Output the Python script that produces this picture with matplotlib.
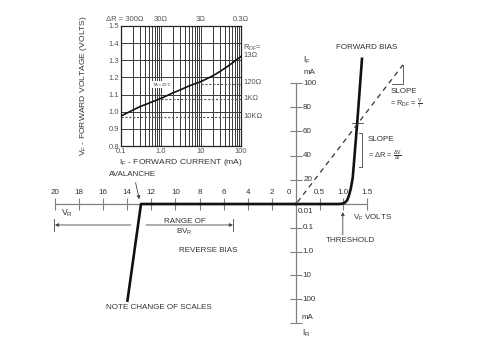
import matplotlib
matplotlib.use("Agg")
import matplotlib.pyplot as plt
from matplotlib.ticker import NullLocator, NullFormatter

plt.rcParams['font.family'] = ['Liberation Sans', 'DejaVu Sans']
plt.rcParams['mathtext.default'] = 'regular'

# Ejes principales (escalas cambiadas en cada cuadrante)
rev_v_ticks = [20, 18, 16, 14, 12, 10, 8, 6, 4, 2]
fwd_v_ticks = [0.5, 1.0, 1.5]
fwd_v_labels = ['0.5', '1.0', '1.5']
if_ticks = [20, 40, 60, 80, 100]
ir_ticks = [0.1, 1, 10, 100, 1000]
ir_labels = ['0.1', '1.0', '10', '100']

# Curva directa (V, mA)
curva_vf = [0, 0.9, 0.97, 1.03, 1.08, 1.12, 1.16, 1.2, 1.3, 1.395]
curva_if = [0, 0, 0.2, 1, 3, 7, 13, 22, 70, 120]
# Curva inversa (V, mA)
curva_vr = [0, 12.86, 14.0]
curva_ir = [0.01, 0.01, 130]
# Recta de pendiente V/I
recta_v = [0.03, 2.26]
recta_i = [1.5, 115]

# Grafica pequeña
inset_if = [0.1, 0.2, 0.3, 0.5, 1, 2, 3, 5, 10, 20, 30, 50, 100]
inset_vf = [0.975, 1.01, 1.03, 1.05, 1.078, 1.11, 1.127, 1.15, 1.176, 1.21, 1.235, 1.27, 1.322]
inset_xticks = [0.1, 1, 10, 100]
inset_xlabels = ['0.1', '1.0', '10', '100']
inset_yticks = [0.8, 0.9, 1.0, 1.1, 1.2, 1.3, 1.4, 1.5]
delta_r = ['300Ω', '30Ω', '3Ω', '0.3Ω']
rdf_nivel = [1.16, 1.075, 0.968]
rdf_desde = [10, 1, 0.1]
rdf_texto = ['120Ω', '1KΩ', '10KΩ']
rdf_texto_y = [1.172, 1.075, 0.97]

gris = '#808080'
negro = '#111111'
texto = '#333333'
fs = 5.8

fig = plt.figure(figsize=(4.8, 3.39), dpi=100)

# cuadrante inverso
ax_r = fig.add_axes([0, 0, 1, 1])
ax_r.patch.set_visible(False)
ax_r.set_yscale('log')
ax_r.set_xlim(24.56, -15.27)
ax_r.set_ylim(10 ** 3.672, 10 ** -10.571)
for s in ['bottom', 'right']:
    ax_r.spines[s].set_visible(False)
ax_r.spines['top'].set_position(('data', 0.01))
ax_r.spines['top'].set_bounds(0, 20)
ax_r.spines['left'].set_position(('data', 0))
ax_r.spines['left'].set_bounds(0.01, 1000)
for s in ['top', 'left']:
    ax_r.spines[s].set_color(gris)
    ax_r.spines[s].set_linewidth(0.9)
ax_r.xaxis.set_ticks_position('top')
ax_r.set_xticks(rev_v_ticks)
ax_r.set_xticklabels([str(v) for v in rev_v_ticks])
ax_r.tick_params(axis='x', direction='inout', length=8, width=0.8, color=gris,
                 labelsize=fs, labelcolor=texto, pad=1.5)
ax_r.set_yticks(ir_ticks)
ax_r.yaxis.set_minor_locator(NullLocator())
ax_r.tick_params(axis='y', which='both', direction='inout', length=9, width=0.8,
                 color=gris, labelleft=False)

ax_r.plot(curva_vr, curva_ir, color=negro, lw=1.9, zorder=3, solid_capstyle='butt')

for v, lab in zip(ir_ticks, ir_labels):
    ax_r.text(-0.55, v, lab, fontsize=fs, color=texto, ha='left', va='center')
ax_r.text(-0.83, 0.0197, '0.01', fontsize=fs, color=texto, ha='center', va='center')
ax_r.text(-0.5, 560, 'mA', fontsize=fs, color=texto, ha='left', va='center')
ax_r.text(-0.5, 2630, 'I$_R$', fontsize=fs + 0.5, color=texto, ha='left', va='center')
ax_r.text(0.58, 3.45e-3, '0', fontsize=fs, color=texto, ha='center', va='center')

ax_r.text(13.53, 6.0e-4, 'AVALANCHE', fontsize=fs, color=texto, ha='center', va='center')
ax_r.annotate('', xy=(12.95, 8.2e-3), xytext=(13.36, 9.8e-4),
              arrowprops=dict(arrowstyle='-|>', lw=0.6, color='#444', mutation_scale=5))
ax_r.text(19.0, 0.024, 'V$_R$', fontsize=fs + 0.5, color=texto, ha='center', va='center')

ax_r.annotate('', xy=(20.0, 0.0762), xytext=(13.7, 0.0762),
              arrowprops=dict(arrowstyle='-|>', lw=0.6, color='#444', mutation_scale=5,
                              shrinkA=0, shrinkB=0))
ax_r.plot([20.1, 20.1], [0.043, 0.136], color='#444', lw=0.6)
ax_r.annotate('', xy=(5.23, 0.0762), xytext=(12.45, 0.0762),
              arrowprops=dict(arrowstyle='-|>', lw=0.6, color='#444', mutation_scale=5,
                              shrinkA=0, shrinkB=0))
ax_r.plot([5.2, 5.2], [0.043, 0.136], color='#444', lw=0.6)
ax_r.text(9.2, 0.057, 'RANGE OF', fontsize=fs, color=texto, ha='center', va='center')
ax_r.text(9.3, 0.15, 'BV$_R$', fontsize=fs, color=texto, ha='center', va='center')
ax_r.text(7.3, 0.86, 'REVERSE BIAS', fontsize=fs, color=texto, ha='center', va='center')
ax_r.text(11.4, 234, 'NOTE CHANGE OF SCALES', fontsize=fs, color=texto, ha='center', va='center')

# cuadrante directo
ax_f = fig.add_axes([0, 0, 1, 1])
ax_f.patch.set_visible(False)
ax_f.set_xlim(-6.258, 3.890)
ax_f.set_ylim(-111.57, 168.6)
for s in ['bottom', 'right']:
    ax_f.spines[s].set_visible(False)
ax_f.spines['top'].set_position(('data', 0))
ax_f.spines['top'].set_bounds(0, 1.5)
ax_f.spines['left'].set_position(('data', 0))
ax_f.spines['left'].set_bounds(0, 100)
for s in ['top', 'left']:
    ax_f.spines[s].set_color(gris)
    ax_f.spines[s].set_linewidth(0.9)
ax_f.xaxis.set_ticks_position('top')
ax_f.set_xticks(fwd_v_ticks)
ax_f.set_xticklabels(fwd_v_labels)
ax_f.tick_params(axis='x', direction='inout', length=8, width=0.8, color=gris,
                 labelsize=fs, labelcolor=texto, pad=1.5)
ax_f.set_yticks(if_ticks)
ax_f.tick_params(axis='y', direction='inout', length=9, width=0.8, color=gris,
                 labelleft=False)

ax_f.plot(curva_vf, curva_if, color=negro, lw=1.9, zorder=3)
ax_f.plot(recta_v, recta_i, color='#333', lw=0.9, ls=(0, (4, 3.5)), zorder=3)
ax_f.plot([2.03, 2.26, 2.26], [99, 99, 115], color='#444', lw=0.6)
ax_f.plot([1.18, 1.42], [67, 67], color='#444', lw=0.6)
ax_f.plot([1.34, 1.395, 1.395, 1.34], [58.7, 58.7, 30.6, 30.6], color='#444', lw=0.6)

for v in if_ticks:
    ax_f.text(0.15, v, str(v), fontsize=fs, color=texto, ha='left', va='center')
ax_f.text(0.15, 119, 'I$_F$', fontsize=fs + 0.5, color=texto, ha='left', va='center')
ax_f.text(0.15, 109, 'mA', fontsize=fs, color=texto, ha='left', va='center')
ax_f.text(1.5, 129, 'FORWARD BIAS', fontsize=fs, color=texto, ha='center', va='center')
ax_f.text(1.99, 92.6, 'SLOPE', fontsize=fs, color=texto, ha='left', va='center')
ax_f.text(1.99, 83, '= R$_{DF}$ = $\\frac{V}{I}$', fontsize=fs - 0.5, color=texto,
          ha='left', va='center')
ax_f.text(1.52, 53, 'SLOPE', fontsize=fs, color=texto, ha='left', va='center')
ax_f.text(1.52, 40, '= ΔR = $\\frac{\\Delta V}{\\Delta I}$', fontsize=fs - 0.5, color=texto,
          ha='left', va='center')
ax_f.text(1.2, -11.6, 'V$_F$ VOLTS', fontsize=fs, color=texto, ha='left', va='center')
ax_f.annotate('', xy=(0.99, -6.6), xytext=(0.99, -25.6),
              arrowprops=dict(arrowstyle='-|>', lw=0.6, color='#444', mutation_scale=5,
                              shrinkA=0, shrinkB=0))
ax_f.text(1.14, -30, 'THRESHOLD', fontsize=fs, color=texto, ha='center', va='center')

# grafica pequeña V_F contra I_F
ax_in = fig.add_axes([121 / 480, 1 - 146 / 339, 120 / 480, 120 / 339])
ax_in.set_xscale('log')
ax_in.set_xlim(0.1, 100)
ax_in.set_ylim(0.8, 1.5)
ax_in.set_xticks(inset_xticks)
ax_in.set_xticklabels(inset_xlabels)
ax_in.xaxis.set_minor_formatter(NullFormatter())
ax_in.set_yticks(inset_yticks)
ax_in.set_yticklabels([f'{v:.1f}' for v in inset_yticks])
ax_in.tick_params(which='both', length=0, labelsize=fs - 0.3, labelcolor='#555', pad=1.5)
ax_in.grid(True, which='both', axis='x', color='#3a3a3a', lw=0.7)
ax_in.grid(True, which='major', axis='y', color='#3a3a3a', lw=0.7)
ax_in.set_axisbelow(True)
for s in ax_in.spines.values():
    s.set_linewidth(0.9)
    s.set_color('#222')

ax_in.plot(inset_if, inset_vf, color=negro, lw=1.2, zorder=3)
for nivel, desde in zip(rdf_nivel, rdf_desde):
    ax_in.plot([desde, 100], [nivel, nivel], color='#555', lw=0.8, ls=(0, (2, 1.5)), zorder=2.5)

ax_in.text(1.06, 1.157, 'TA = 25°C', fontsize=2.8, color='#333', ha='center', va='center',
           bbox=dict(facecolor='white', edgecolor='none', pad=1.2), zorder=2.6)

tr_top = ax_in.get_xaxis_transform()
ax_in.text(0.355, 1.058, 'ΔR = 300Ω', transform=tr_top, fontsize=fs - 0.3, color='#555',
           ha='right', va='center')
for x, lab in zip(inset_xticks[1:], delta_r[1:]):
    ax_in.text(x, 1.058, lab, transform=tr_top, fontsize=fs - 0.3, color='#555',
               ha='center', va='center')

tr_der = ax_in.get_yaxis_transform()
ax_in.text(1.02, 1.373, 'R$_{DF}$=', transform=tr_der, fontsize=fs - 0.3, color='#555',
           ha='left', va='center')
ax_in.text(1.02, 1.326, '13Ω', transform=tr_der, fontsize=fs - 0.3, color='#555',
           ha='left', va='center')
for y, lab in zip(rdf_texto_y, rdf_texto):
    ax_in.text(1.02, y, lab, transform=tr_der, fontsize=fs - 0.3, color='#555',
               ha='left', va='center')

ax_in.set_xlabel('I$_F$ - FORWARD CURRENT (mA)', fontsize=fs + 0.3, color=texto)
ax_in.xaxis.set_label_coords(0.5, -0.09)
ax_in.set_ylabel('V$_F$ - FORWARD VOLTAGE (VOLTS)', fontsize=fs + 0.3, color=texto)
ax_in.yaxis.set_label_coords(-0.27, 0.5)

fig.savefig('out.png', dpi=100)
